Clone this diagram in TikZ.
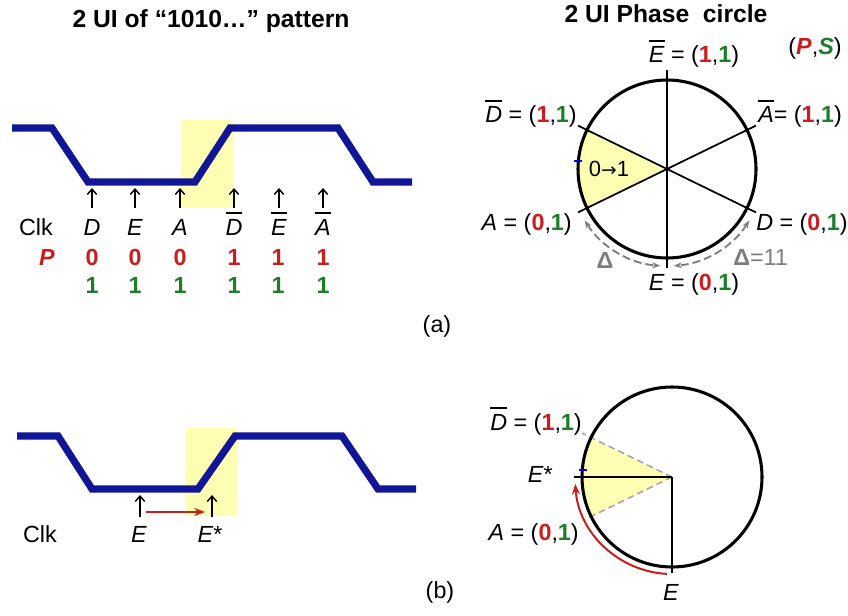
\documentclass[tikz,border=0pt]{standalone}
\usepackage{fontspec}
\setmainfont{Liberation Sans}
\newfontfamily\arrowfont{DejaVu Sans}
\usepackage{xcolor}
\usepackage{tikz}
\usetikzlibrary{arrows.meta,calc}

\definecolor{wave}{RGB}{16,22,150}
\definecolor{hilite}{RGB}{255,255,180}
\definecolor{pcol}{RGB}{200,30,30}
\definecolor{scol}{RGB}{30,125,40}
\definecolor{dgrey}{RGB}{125,125,125}

\newcommand{\ov}[1]{\sbox0{\textit{#1}}\rlap{\rule[\dimexpr\ht0+4pt\relax]{\wd0}{1pt}}\usebox0}
\newcommand{\pair}[2]{(\textcolor{pcol}{\textbf{#1}},\textcolor{scol}{\textbf{#2}})}

\begin{document}
\begin{tikzpicture}[
  x=0.75pt, y=0.75pt,
  font=\fontsize{17.5}{20}\selectfont,
  lbl/.style={anchor=base, inner sep=0pt},
  title/.style={anchor=base, inner sep=0pt, font=\fontsize{18.5}{22}\selectfont\bfseries},
  wavel/.style={draw=wave, line width=5.4pt, line join=miter},
  clk/.style={-{Straight Barb[length=4pt,width=7pt]}, line width=1.1pt},
  ring/.style={line width=2.3pt},
  spoke/.style={line width=1.3pt},
  guide/.style={draw=gray!70, dash pattern=on 5pt off 3pt, line width=1.2pt},
  delta/.style={draw=dgrey, dash pattern=on 6pt off 3pt, line width=1.4pt,
    {Stealth[length=6pt]}-{Stealth[length=6pt]}},
  move/.style={draw=pcol, line width=1.5pt, -{Stealth[length=8pt]}},
  tick/.style={draw=blue, line width=1.6pt},
]
  \useasboundingbox (0,0) rectangle (848,615);

  % (a) waveform
  \node[title] (tita) at (211,587) {2 UI of “1010…” pattern};
  \fill[hilite] (181,407) rectangle (234,495);
  \draw[wavel] (12,487) -- (52,487) -- (88,433) -- (195,433) -- (230,487)
    -- (338,487) -- (373,433) -- (412,433);
  \foreach \x [count=\i] in {92,135,180,234,279,323} {
    \coordinate (ta\i) at (\x,407);
    \coordinate (ha\i) at (\x,427);
    \draw[clk] (ta\i) -- (ha\i);
  }
  \node[lbl] (clka) at (36,380) {Clk};
  \foreach \x/\t [count=\i] in {92/\textit{D},135/\textit{E},180/\textit{A},234/\ov{D},279/\ov{E},323/\ov{A}}
    \node[lbl] (ka\i) at (\x,380) {\t};
  \node[lbl, pcol] (prow) at (47,350) {\textbf{\textit{P}}};
  \foreach \x/\v [count=\i] in {92/0,135/0,180/0,234/1,278/1,323/1} {
    \node[lbl, pcol] (pv\i) at (\x,350) {\textbf{\v}};
    \node[lbl, scol] (sv\i) at (\x,322) {\textbf{1}};
  }
  \node[lbl] (capa) at (437,283) {(a)};

  % (a) phase circle
  \node[title] (titb) at (666,592) {2 UI Phase\ \ circle};
  \coordinate (ca) at (667,446);
  \fill[hilite] (ca) -- ++(154:89) arc[start angle=154, end angle=206, radius=89] -- cycle;
  \foreach \a in {26,90,154}
    \draw[spoke] ($(ca)+(\a:99)$) -- ($(ca)+(\a+180:99)$);
  \draw[ring] (ca) circle[radius=89];
  \draw[tick] ($(ca)+(175:89)+(-4,0)$) -- ++(8,0);
  \draw[delta] ($(ca)+(212:97)$) arc[start angle=212, end angle=266, radius=97];
  \draw[delta] ($(ca)+(328:97)$) arc[start angle=328, end angle=274, radius=97];

  \node[lbl] (ebar) at (694,552) {\ov{E} = \pair{1}{1}};
  \node[lbl] (pslbl) at (815,560) {(\textcolor{pcol}{\textbf{\textit{P}}},\textcolor{scol}{\textbf{\textit{S}}})};
  \node[lbl, anchor=base east] (dbar) at (577,492) {\ov{D} = \pair{1}{1}};
  \node[lbl, anchor=base west] (abar) at (758,492) {\ov{A}= \pair{1}{1}};
  \node[lbl, anchor=base east] (apt) at (572,385) {\textit{A} = \pair{0}{1}};
  \node[lbl, anchor=base west] (dpt) at (756,385) {\textit{D} = \pair{0}{1}};
  \node[lbl] (ept) at (694,325) {\textit{E} = \pair{0}{1}};
  \node[lbl, font=\fontsize{16.5}{18}\selectfont] (trans) at (609,438) {0{\arrowfont\fontsize{14}{16}\selectfont →}1};
  \node[lbl, dgrey] (dleft) at (605,347) {\textbf{Δ}};
  \node[lbl, anchor=base west, dgrey] (dright) at (733,350) {\textbf{Δ}=11};

  % (b) waveform
  \fill[hilite] (186,99) rectangle (238,187);
  \draw[wavel] (17,179) -- (58,179) -- (92,126) -- (198,126) -- (235,179)
    -- (342,179) -- (378,126) -- (416,126);
  \foreach \x [count=\i] in {140,212} {
    \coordinate (tb\i) at (\x,98);
    \coordinate (hb\i) at (\x,120);
    \draw[clk] (tb\i) -- (hb\i);
  }
  \coordinate (mvs) at (146,103);
  \coordinate (mve) at (205,103);
  \draw[move] (mvs) -- (mve);
  \node[lbl] (clkb) at (40,73) {Clk};
  \node[lbl] (eold) at (139,73) {\textit{E}};
  \node[lbl] (enew) at (210,73) {\textit{E}*};
  \node[lbl] (capb) at (440,17) {(b)};

  % (b) phase circle
  \coordinate (cb) at (672,138);
  \fill[hilite] (cb) -- ++(154:90) arc[start angle=154, end angle=206, radius=90] -- cycle;
  \draw[guide] (cb) -- ++(154:100);
  \draw[guide] (cb) -- ++(206:92);
  \draw[spoke] (cb) -- ++(180:98);
  \draw[spoke] (cb) -- ++(270:96);
  \draw[ring] (cb) circle[radius=90];
  \draw[tick] (579,145) -- (587,145);
  \draw[move] ($(cb)+(267:97)$) arc[start angle=267, end angle=184, radius=97];

  \node[lbl, anchor=base east] (dbarb) at (582,185) {\ov{D} = \pair{1}{1}};
  \node[lbl, anchor=base east] (estar) at (553,133) {\textit{E}*};
  \node[lbl, anchor=base east] (aptb) at (579,75) {\textit{A} = \pair{0}{1}};
  \node[lbl] (eptb) at (671,15) {\textit{E}};
\end{tikzpicture}
\end{document}
